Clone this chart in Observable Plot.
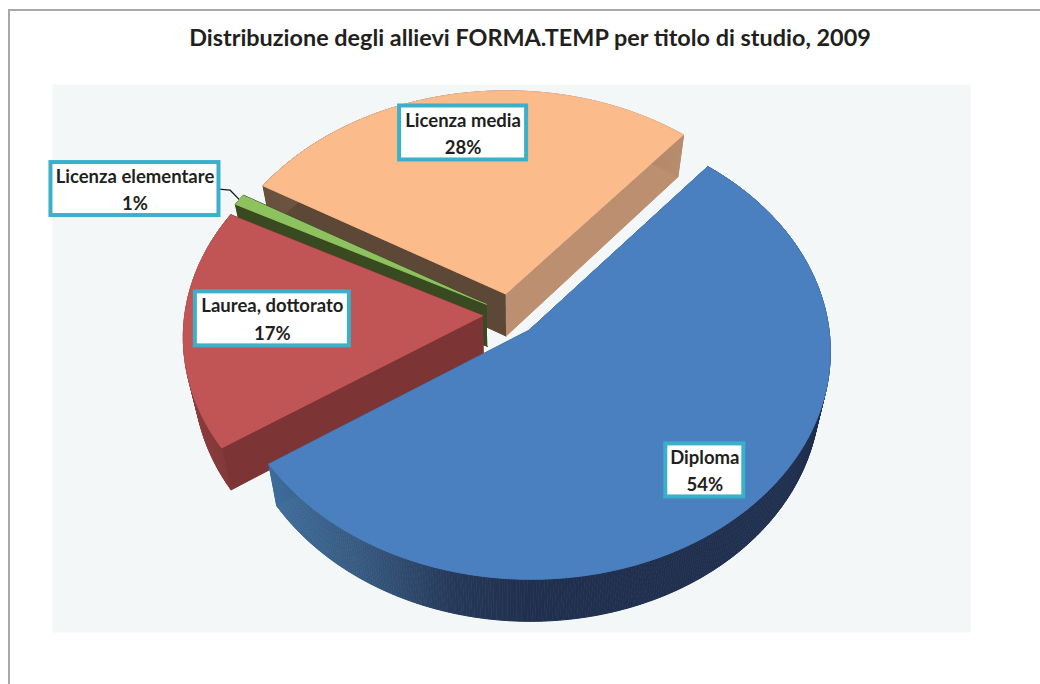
<!DOCTYPE html>
<html lang="it">
<head>
<meta charset="utf-8">
<style>
  html, body { margin: 0; padding: 0; background: #fff; }
  body { width: 1040px; height: 684px; overflow: hidden; position: relative; font-family: Lato, sans-serif; }
  #frame { position: absolute; left: 8px; top: 9px; width: 1040px; height: 700px; border: 2px solid #a8a8a8; box-sizing: border-box; }
  #title { position: absolute; left: 0; top: 21px; width: 1060px; text-align: center; font: 700 23.4px/32px Lato, sans-serif; color: #231f20; white-space: nowrap; }
  #chart { position: absolute; left: 0; top: 84px; }
  #chart svg { overflow: visible; display: block; }
</style>
<script src="https://cdn.jsdelivr.net/npm/d3@7"></script>
<script src="https://cdn.jsdelivr.net/npm/@observablehq/plot@0.6"></script>
</head>
<body>
<div id="frame"></div>
<div id="title">Distribuzione degli allievi FORMA.TEMP per titolo di studio, 2009</div>
<div id="chart"></div>
<script>
// --- Data
const categories = ["Diploma", "Laurea, dottorato", "Licenza elementare", "Licenza media"];
const percentages = [54.49, 17.2, 0.81, 27.5]; // shares; the labels round them

// --- Look of each slice (same order as categories)
const topColors = ["#4a80c0", "#c15556", "#8dc25f", "#fbbb8b"];
const startFaceColors = ["#2b4468", "#7c3434", "#3a4a20", "#5d4837"];
const endFaceColors = ["#3e6c9a", "#7c3434", "#3a4a20", "#bb8f70"];
const rimStops = [
  [[272, 360, 450, 530], ["#3e6c9a", "#37597f", "#26395a", "#1f2f4e"]],
  [[190, 230], ["#8f3d3d", "#7c3434"]],
  [[200, 300], ["#3a4a20", "#3a4a20"]],
  [[200, 700], ["#5d4837", "#bb8f70"]]
];
const paintOrder = [3, 2, 1, 0];

// --- Pie camera: a flat disc seen in perspective
const firstAngle = 39.8, explode = 0.093, thickness = 42, bottomScale = 0.967;
const cam = {ox: 510, oy: 314, a: 298, b: 224.5, k: 0.0877};
const rad = (d) => d * Math.PI / 180;
const project = (u, v) => {
  const w = 1 + cam.k * v;
  return [cam.ox + cam.a * u / w, cam.oy - cam.b * v / w];
};
const lower = ([x, y]) => [cam.ox + (x - cam.ox) * bottomScale, y + thickness];

// --- Label placement along each slice's bisector, and box sizes
const labelRadius = [0.805, 0.705, 1.357, 0.794];
const labelTurn = [-1.2, 1.9, -5.8, -1.6];
const boxWidth = [78, 154, 168, 127];
const boxHeight = [53, 54, 53, 54];

// --- Slices derived from the values
const total = d3.sum(percentages);
let cursor = firstAngle;
const slices = categories.map((name, i) => {
  const a0 = cursor, a1 = cursor + percentages[i] / total * 360;
  cursor = a1;
  const mid = (a0 + a1) / 2;
  const apexU = explode * Math.sin(rad(mid)), apexV = explode * Math.cos(rad(mid));
  const at = (deg, r = 1) => project(apexU + r * Math.sin(rad(deg)), apexV + r * Math.cos(rad(deg)));
  return {i, name, pct: Math.round(percentages[i]), a0, a1, mid, at};
});

// --- Polygons, in painting order
const polys = [];
let pid = 0;
const addPoly = (pts, fill) => {
  const id = pid++;
  pts.forEach(([x, y]) => polys.push({id, x, y, fill}));
};
for (const i of paintOrder) {
  const s = slices[i];
  const apex = s.at(0, 0);
  const startP = s.at(s.a0), endP = s.at(s.a1);
  addPoly([apex, startP, lower(startP), lower(apex)], startFaceColors[i]);
  addPoly([apex, endP, lower(endP), lower(apex)], endFaceColors[i]);
  const steps = Math.max(2, Math.ceil((s.a1 - s.a0) / 0.5));
  const angles = d3.range(steps + 1).map((j) => s.a0 + (s.a1 - s.a0) * j / steps);
  const rim = d3.scaleLinear().domain(rimStops[i][0]).range(rimStops[i][1]).clamp(true);
  for (let j = 0; j < steps; j++) {
    const p = s.at(angles[j]), q = s.at(angles[j + 1]);
    addPoly([p, q, lower(q), lower(p)], d3.rgb(rim((p[0] + q[0]) / 2)).formatHex());
  }
  addPoly([apex, ...angles.map((a) => s.at(a))], topColors[i]);
}

// --- Labels
const labels = slices.map((s) => {
  const [cx, cy] = s.at(s.mid + labelTurn[s.i], labelRadius[s.i]);
  return {
    cx, cy,
    x1: cx - boxWidth[s.i] / 2, x2: cx + boxWidth[s.i] / 2,
    y1: cy - boxHeight[s.i] / 2, y2: cy + boxHeight[s.i] / 2,
    text: s.name + "\n" + s.pct + "%"
  };
});
const smallIdx = 2;
const smallBox = labels[smallIdx];
const smallTip = slices[smallIdx].at(slices[smallIdx].mid);
const leader = [
  [smallBox.x2, smallBox.cy],
  [smallBox.x2 + 11, smallBox.cy + 1],
  smallTip
].map(([x, y]) => ({x, y}));

const chart = Plot.plot({
  width: 1040,
  height: 600,
  marginLeft: 52, marginRight: 70, marginTop: 0, marginBottom: 52,
  x: {domain: [52, 970], axis: null},
  y: {domain: [84, 632], range: [0, 548], axis: null},
  color: {type: "identity"},
  style: {background: "transparent", fontFamily: "Lato, sans-serif"},
  marks: [
    Plot.frame({fill: "#f4f7f7", stroke: null}),
    Plot.line(leader, {x: "x", y: "y", stroke: "#1a1a1a", strokeWidth: 1.3, curve: "linear"}),
    Plot.line(polys, {x: "x", y: "y", z: "id", fill: "fill", stroke: "fill", strokeWidth: 1, curve: "linear"}),
    Plot.rect(labels, {x1: "x1", x2: "x2", y1: "y1", y2: "y2", fill: "#ffffff", stroke: "#3bb0cb", strokeWidth: 4, inset: 0}),
    Plot.text(labels, {x: "cx", y: "cy", dy: -1.5, text: "text", fill: "#231f20", fontWeight: 700, fontSize: 18.5, lineHeight: 1.48, fontFamily: "Lato, sans-serif"})
  ]
});
document.getElementById("chart").append(chart);
</script>
</body>
</html>
